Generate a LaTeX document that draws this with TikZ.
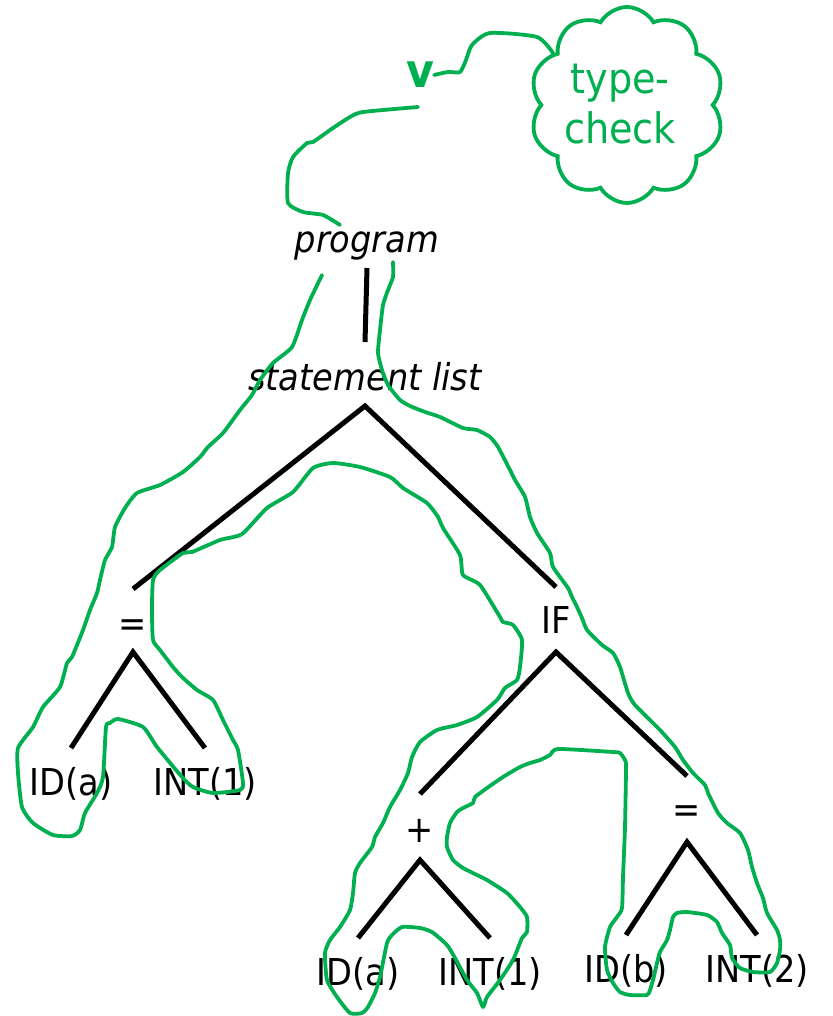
\documentclass[tikz,border=0pt]{standalone}
\usepackage{fontspec}
\setmainfont[FakeStretch=0.91]{DejaVu Sans}
\usetikzlibrary{shapes.symbols}
\definecolor{tgreen}{HTML}{00B050}
\begin{document}
\begin{tikzpicture}[x=1pt,y=-1pt,
  lbl/.style={anchor=base, inner sep=0pt, font=\fontsize{37}{44}\selectfont},
  ilbl/.style={anchor=base, inner sep=0pt, font=\fontsize{37}{44}\selectfont\itshape},
  edge/.style={line width=5pt, black},
  trav/.style={tgreen, line width=3.8pt, line join=round, line cap=round}]
\useasboundingbox (0,0) rectangle (832,1016);

% tree nodes
\node[ilbl] (prog) at (367,252) {program};
\node[ilbl] (sl) at (365,390) {statement list};
\node[lbl] (eqA) at (133,636) {=};
\node[lbl] (if) at (556,633) {IF};
\node[lbl] (idA) at (71,795) {ID(a)};
\node[lbl] (intA) at (205,795) {INT(1)};
\node[lbl] (plus) at (420,842) {+};
\node[lbl] (eqB) at (687,822) {=};
\node[lbl] (idB) at (358,985) {ID(a)};
\node[lbl] (intB) at (490,985) {INT(1)};
\node[lbl] (idC) at (626,982) {ID(b)};
\node[lbl] (intC) at (757,982) {INT(2)};

% tree edges
\draw[edge] ([yshift=-16pt]prog.base) -- ([yshift=48pt]sl.base);
\draw[edge] ([yshift=47pt]eqA.base) -- ([yshift=-16pt]sl.base) -- ([yshift=46pt]if.base);
\draw[edge] ([yshift=47pt]idA.base) -- ([yshift=-16pt]eqA.base) -- ([yshift=47pt]intA.base);
\draw[edge] ([yshift=48pt]plus.base) -- ([yshift=-19pt]if.base) -- ([yshift=46pt]eqB.base);
\draw[edge] ([yshift=47pt]idB.base) -- ([yshift=-18pt]plus.base) -- ([yshift=47pt]intB.base);
\draw[edge] ([yshift=47pt]idC.base) -- ([yshift=-20pt]eqB.base) -- ([yshift=47pt]intC.base);

% visitor and cloud
\node[text=tgreen, inner sep=0pt, font=\fontsize{47}{50}\selectfont\bfseries] (v) at (420,75) {v};
\node[cloud, cloud puffs=10, cloud puff arc=120, aspect=1, draw=tgreen, line width=3.8pt,
      minimum width=194pt, minimum height=196pt, inner sep=0pt] (tc) at (627,105) {};
\node[text=tgreen, inner sep=0pt, align=center, font=\fontsize{42}{50}\selectfont] (tct) at (620,104) {type-\\check};
\draw[trav] plot[smooth, tension=0.4] coordinates {(v.east) (448,72) (460,72) (466,60) (472,45) (490,33) (537,37) (tc.145)};

% traversal path
\draw[trav] plot[smooth, tension=0.35] coordinates {(418,107) (363,112) (350,117) (333,128) (313,142) (307,143) (293,157) (288,173) (288,203) (303,212) (323,215) (340,225)};
\draw[trav] plot[smooth, tension=0.35] coordinates {
(322,275) (310,300) (302,320) (292,347) (273,363) (260,380) (252,395) (240,410) (223,433) (208,447) (200,457) (183,472) (160,485) (137,493) (125,508) (115,527) (112,547) (105,560) (100,580) (97,593) (90,610) (83,630) (72,657) (67,663) (60,687) (43,707) (33,727) (18,748) (18,773) (22,807) (33,823) (53,835) (72,836) (80,830) (85,813) (97,793) (103,777) (106,727) (110,723) (118,719) (143,727) (157,747) (182,777) (193,787) (213,793) (240,790) (243,783) (238,750) (233,740) (223,720) (213,700) (197,690) (182,677) (173,667) (160,650) (153,640) (152,610) (153,580) (160,570) (183,553) (192,552) (220,540) (242,534) (267,508) (293,492) (313,468) (333,463) (360,467) (390,477) (403,488) (427,503) (438,517) (443,528) (460,555) (463,575) (480,585) (500,617) (503,622) (513,625) (522,640) (520,667) (517,680) (505,688) (497,700) (477,717) (457,725) (437,730) (420,742) (412,757) (408,773) (400,790) (390,807) (383,823) (375,837) (372,847) (360,863) (355,873) (353,893) (350,910) (340,927) (330,940) (325,953) (327,980) (337,997) (350,1013) (362,1013) (368,1007) (375,993) (380,977) (387,943) (392,935) (402,927) (420,928) (432,932) (447,945) (455,958) (467,980) (477,993) (483,1007) (487,997) (500,980) (513,960) (522,938) (527,932) (527,917) (520,907) (507,893) (487,880) (477,875) (463,868) (453,860) (447,847) (447,837) (450,823) (457,812) (463,808) (473,803) (475,797) (487,788) (503,777) (520,767) (530,763) (540,760) (550,755) (558,749) (613,752) (620,753) (625,760) (626,767) (625,827) (623,877) (622,908) (617,917) (610,927) (605,947) (607,970) (613,983) (620,992) (630,995) (647,995) (650,990) (653,980) (657,963) (660,952) (667,940) (670,930) (673,917) (677,913) (687,912) (707,915) (717,922) (722,933) (730,945) (732,958) (740,968) (753,972) (770,972) (777,963) (780,950) (780,940) (777,930) (767,913) (763,898) (757,883) (752,867) (748,850) (740,833) (727,823) (718,813) (708,793) (705,785) (693,773) (683,760) (675,747) (660,730) (635,705) (628,693) (620,667) (613,653) (602,645) (587,630) (582,618) (577,607) (572,597) (568,588) (553,567) (550,553) (537,533) (530,517) (525,497) (515,480) (510,470) (498,447) (490,437) (477,430) (463,428) (440,417) (425,412) (410,406) (400,400) (388,385) (382,370) (378,353) (380,330) (383,305) (388,290) (393,277) (393,262)};
\end{tikzpicture}
\end{document}
